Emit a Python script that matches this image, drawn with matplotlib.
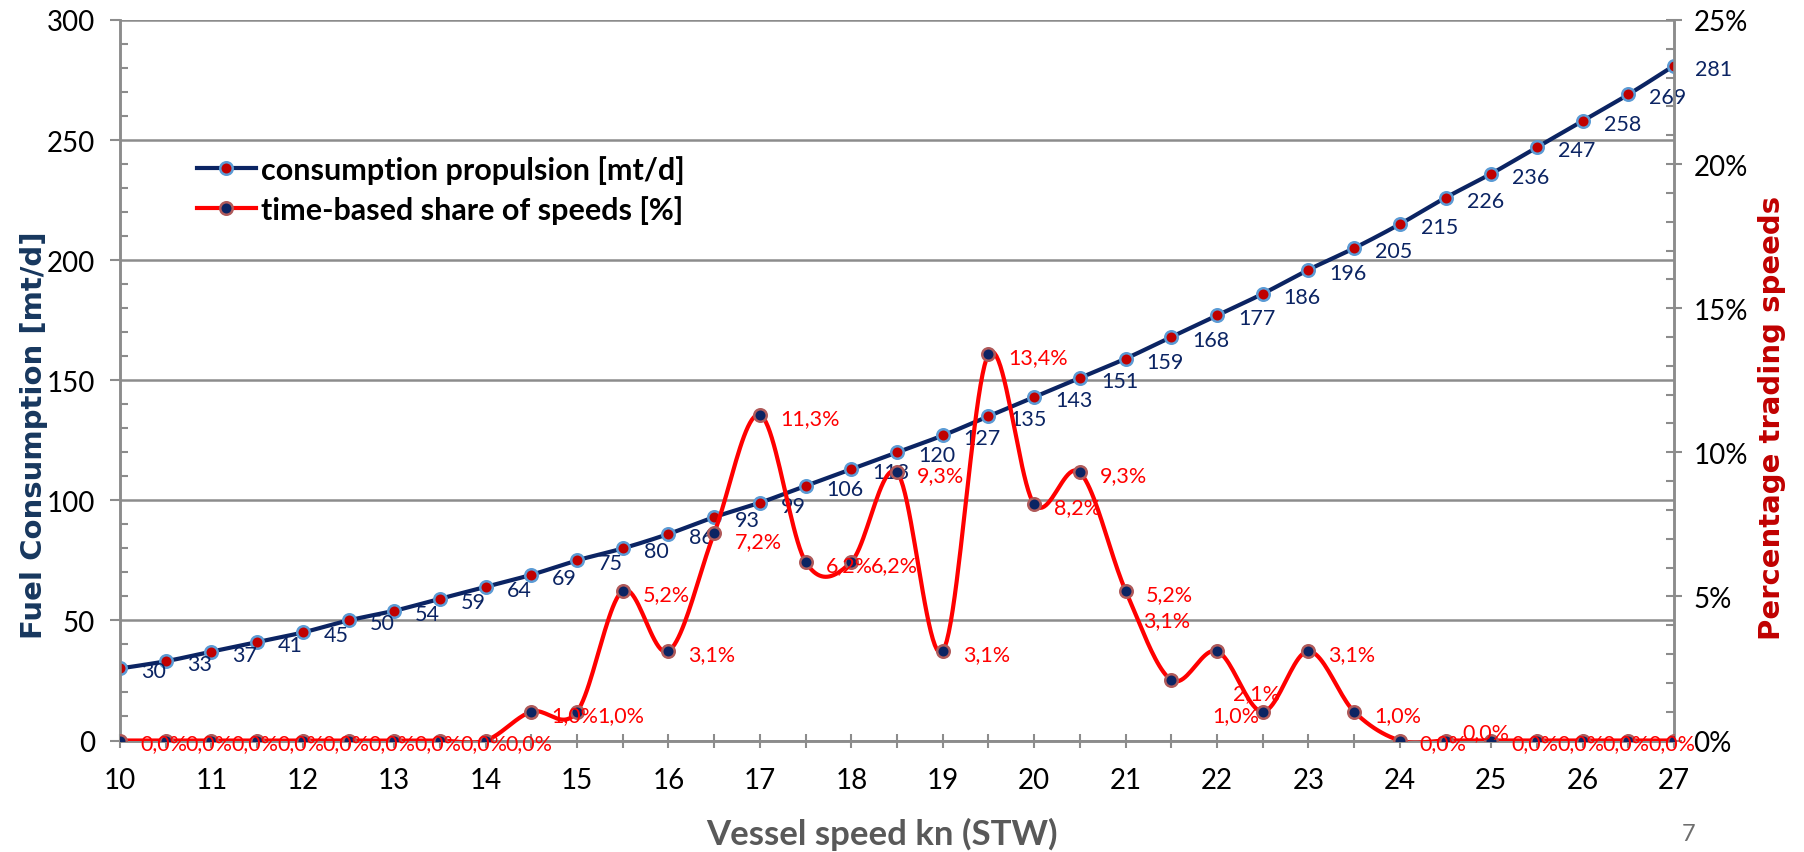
import numpy as np
import matplotlib
matplotlib.use('Agg')
import matplotlib.pyplot as plt
from matplotlib.ticker import MultipleLocator, FuncFormatter

plt.rcParams['font.family'] = ['Lato', 'DejaVu Sans']

# vessel speed through water [kn]
speed = [10, 10.5, 11, 11.5, 12, 12.5, 13, 13.5, 14, 14.5, 15, 15.5, 16, 16.5,
         17, 17.5, 18, 18.5, 19, 19.5, 20, 20.5, 21, 21.5, 22, 22.5, 23, 23.5,
         24, 24.5, 25, 25.5, 26, 26.5, 27]

# propulsion fuel consumption [mt/d]
consumption = [30, 33, 37, 41, 45, 50, 54, 59, 64, 69, 75, 80, 86, 93, 99, 106,
               113, 120, 127, 135, 143, 151, 159, 168, 177, 186, 196, 205, 215,
               226, 236, 247, 258, 269, 281]

# share of time spent at each speed [%]
share = [0.0, 0.0, 0.0, 0.0, 0.0, 0.0, 0.0, 0.0, 0.0, 1.0, 1.0, 5.2, 3.1, 7.2,
         11.3, 6.2, 6.2, 9.3, 3.1, 13.4, 8.2, 9.3, 5.2, 2.1, 3.1, 1.0, 3.1, 1.0,
         0.0, 0.0, 0.0, 0.0, 0.0, 0.0, 0.0]

NAVY = '#0b2463'
RED = '#ff0000'
DARKRED = '#c00000'
GRID = '#8c8c8c'
TITLE_FONT = ['DejaVu Sans']

# data label offsets in pixels (default is right of the point)
BLUE_OFF = (21, -3)
RED_OFF = (20, -3)
red_label_moves = {16.5: (21, -8), 21.5: (62, -13), 22: (-74, 31),
                   22.5: (-50, -3), 24.5: (17, 8)}
red_label_skip = [27]


def smooth(x, y, n=24):
    # Catmull-Rom style bezier through every point, like a spreadsheet "smoothed line"
    x = np.asarray(x, float)
    y = np.asarray(y, float)
    xs, ys = [x[0]], [y[0]]
    t = np.linspace(0, 1, n)[1:]
    for i in range(len(x) - 1):
        i0 = max(i - 1, 0)
        i3 = min(i + 2, len(x) - 1)
        p0, p1, p2, p3 = (np.array([x[k], y[k]]) for k in (i0, i, i + 1, i3))
        b1 = p1 + (p2 - p0) / 6
        b2 = p2 - (p3 - p1) / 6
        pts = ((1 - t) ** 3)[:, None] * p1 + (3 * (1 - t) ** 2 * t)[:, None] * b1 \
            + (3 * (1 - t) * t ** 2)[:, None] * b2 + (t ** 3)[:, None] * p2
        xs.extend(pts[:, 0])
        ys.extend(pts[:, 1])
    return np.array(xs), np.array(ys)


fig = plt.figure(figsize=(18.04, 8.53), dpi=100)
ax = fig.add_axes([0.0665, 0.1307, 0.8615, 0.8447])
ax2 = ax.twinx()

# consumption curve (primary axis)
sx, sy = smooth(speed, consumption)
ax.plot(sx, sy, color=NAVY, lw=3, zorder=3, solid_capstyle='round')
ax.plot(speed, consumption, ls='none', marker='o', ms=9, mfc='#c00000',
        mec='#5b9bd5', mew=1.8, zorder=4)
for s, c in zip(speed, consumption):
    ax.annotate(str(c), (s, c), xytext=BLUE_OFF, textcoords='offset pixels',
                ha='left', va='center', fontsize=15.5, color=NAVY, zorder=6)

# time share curve (secondary axis)
rx, ry = smooth(speed, share)
ax2.plot(rx, ry, color=RED, lw=3, zorder=3)
ax2.plot(speed, share, ls='none', marker='o', ms=9, mfc='#0b2463',
         mec='#b05a5a', mew=1.8, zorder=4)
for s, v in zip(speed, share):
    if s in red_label_skip:
        continue
    off = red_label_moves.get(s, RED_OFF)
    ax2.annotate(f'{v:.1f}'.replace('.', ',') + '%', (s, v), xytext=off,
                 textcoords='offset pixels', ha='left', va='center',
                 fontsize=15.5, color=RED, zorder=6)

# legend handles
h1, = ax.plot([], [], color=NAVY, lw=3, marker='o', ms=9, mfc='#c00000',
              mec='#5b9bd5', mew=1.8)
h2, = ax.plot([], [], color=RED, lw=3, marker='o', ms=9, mfc='#0b2463',
              mec='#b05a5a', mew=1.8)
leg = fig.legend([h1, h2], ['consumption propulsion [mt/d]',
                            'time-based share of speeds [%]'],
                 loc='upper left', bbox_to_anchor=(0.109, 0.817), frameon=False,
                 prop={'size': 22, 'weight': 'bold'}, handlelength=1.95,
                 handletextpad=0.15, labelspacing=0.36, borderpad=0,
                 borderaxespad=0)
leg.set_zorder(10)

# axes ranges and ticks
ax.set_xlim(10, 27)
ax.set_ylim(0, 300)
ax2.set_ylim(0, 25)
ax.xaxis.set_major_locator(MultipleLocator(1))
ax.xaxis.set_minor_locator(MultipleLocator(0.5))
ax.yaxis.set_major_locator(MultipleLocator(50))
ax.yaxis.set_minor_locator(MultipleLocator(10))
ax2.yaxis.set_major_locator(MultipleLocator(5))
ax2.yaxis.set_minor_locator(MultipleLocator(1))
ax2.yaxis.set_major_formatter(FuncFormatter(lambda v, p: f'{v:.0f}%'))

ax.tick_params(axis='x', which='both', direction='inout', length=10, width=1.5,
               color=GRID, labelsize=20, pad=14)
ax.tick_params(axis='y', which='major', direction='out', length=7, width=1.5,
               color=GRID, labelsize=20, pad=11)
ax.tick_params(axis='y', which='minor', direction='in', length=6, width=1.5,
               color=GRID)
ax2.tick_params(axis='y', which='major', direction='inout', length=12,
                width=1.5, color=GRID, labelsize=20, pad=8)
ax2.tick_params(axis='y', which='minor', direction='in', length=6, width=1.5,
                color=GRID)

ax.grid(axis='y', which='major', color=GRID, lw=1.8)
ax.set_axisbelow(True)
for a in (ax, ax2):
    a.spines['top'].set_visible(False)
    for side in ('left', 'right', 'bottom'):
        a.spines[side].set_color(GRID)
        a.spines[side].set_linewidth(1.8)
ax2.patch.set_visible(False)

# axis titles
fig.text(0.489, 0.022, 'Vessel speed kn (STW)', ha='center', va='center',
         fontsize=25, fontweight='bold', color='#595959')
fig.text(0.019, 0.49, 'Fuel Consumption [mt/d]', ha='center', va='center',
         rotation=90, fontsize=21, fontweight='bold', color='#17375e',
         family=TITLE_FONT)
fig.text(0.982, 0.51, 'Percentage trading speeds', ha='center', va='center',
         rotation=90, fontsize=21, fontweight='bold', color=DARKRED,
         family=TITLE_FONT)
fig.text(0.936, 0.022, '7', ha='center', va='center', fontsize=17,
         color='#6e6e6e')

fig.savefig('out.png', dpi=100)
